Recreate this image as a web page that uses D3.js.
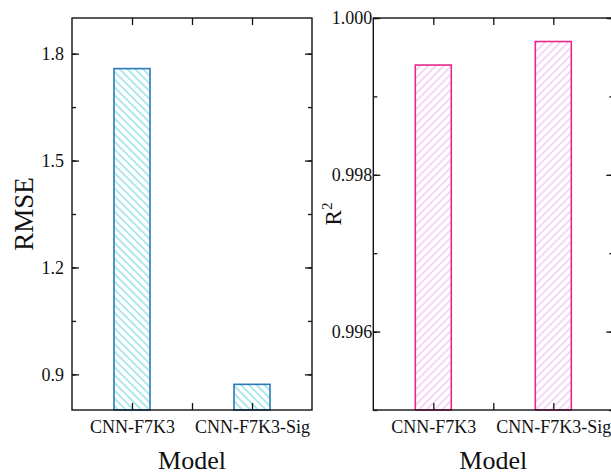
<!DOCTYPE html>
<html>
<head>
<meta charset="utf-8">
<script src="https://cdn.jsdelivr.net/npm/d3@7"></script>
<style>
  body { margin: 0; background: #fff; }
</style>
</head>
<body>
<div id="chart"></div>
<script>
const models = ["CNN-F7K3", "CNN-F7K3-Sig"];
const rmseValues = [1.758, 0.872];
const r2Values = [0.99940, 0.99970];
const rmseTicks = [0.9, 1.2, 1.5, 1.8];
const rmseMinor = [0.9, 1.05, 1.2, 1.35, 1.5, 1.65, 1.8];
const r2Ticks = [0.996, 0.998, 1.000];
const r2Minor = [0.995, 0.996, 0.997, 0.998, 0.999, 1.000];
const xTicks = [1, 1.5, 2];

const width = 611, height = 475;
const serif = '"Liberation Serif", "Times New Roman", serif';

const svg = d3.select("#chart").append("svg")
  .attr("width", width)
  .attr("height", height)
  .style("font-family", serif);

const defs = svg.append("defs");

function hatch(id, color, angle) {
  const p = defs.append("pattern")
    .attr("id", id)
    .attr("patternUnits", "userSpaceOnUse")
    .attr("width", 5.5)
    .attr("height", 5.5)
    .attr("patternTransform", `rotate(${angle})`);
  p.append("line")
    .attr("x1", 2.75).attr("y1", 0)
    .attr("x2", 2.75).attr("y2", 5.5)
    .attr("stroke", color)
    .attr("stroke-width", 1);
}
hatch("hatchCyan", "#5fd3dc", -45);
hatch("hatchPink", "#eab0ee", 45);

const panels = [
  {
    x0: 72, x1: 312, domain: [0.8, 1.9], values: rmseValues,
    ticks: rmseTicks, minor: rmseMinor, fmt: d3.format(".1f"), pad: 8,
    stroke: "#2a7ab8", fill: "url(#hatchCyan)", label: "RMSE"
  },
  {
    x0: 373.3, x1: 613.3, domain: [0.995, 1.000], values: r2Values,
    ticks: r2Ticks, minor: r2Minor, fmt: d3.format(".3f"), pad: 1,
    stroke: "#e8288a", fill: "url(#hatchPink)", label: "R2"
  }
];

const plotTop = 18, plotBottom = 410;

function styleText(a) {
  a.attr("font-family", serif);
  a.selectAll("text")
    .style("font-family", serif)
    .style("font-size", "18px")
    .attr("fill", "#111");
}

panels.forEach(function (p) {
  const x = d3.scaleLinear().domain([0.5, 2.5]).range([p.x0, p.x1]);
  const y = d3.scaleLinear().domain(p.domain).range([plotBottom, plotTop]);
  const g = svg.append("g");

  // bars
  g.selectAll("rect.bar")
    .data(p.values)
    .join("rect")
    .attr("class", "bar")
    .attr("x", (d, i) => x(i + 1 - 0.15))
    .attr("width", (d, i) => x(i + 1 + 0.15) - x(i + 1 - 0.15))
    .attr("y", d => y(d))
    .attr("height", d => plotBottom - y(d))
    .attr("fill", p.fill)
    .attr("stroke", p.stroke)
    .attr("stroke-width", 1.6);

  // frame
  g.append("rect")
    .attr("x", p.x0).attr("y", plotTop)
    .attr("width", p.x1 - p.x0).attr("height", plotBottom - plotTop)
    .attr("fill", "none")
    .attr("stroke", "#111")
    .attr("stroke-width", 1.4);

  // y axis
  g.append("g")
    .attr("transform", `translate(${p.x0},0)`)
    .call(d3.axisLeft(y).tickValues(p.minor).tickSize(-4).tickFormat(""));
  g.append("g")
    .attr("transform", `translate(${p.x0},0)`)
    .call(d3.axisLeft(y).tickValues(p.ticks).tickSize(-7).tickPadding(p.pad).tickFormat(p.fmt))
    .call(styleText);
  g.append("g")
    .attr("transform", `translate(${p.x1},0)`)
    .call(d3.axisRight(y).tickValues(p.minor).tickSize(-4).tickFormat(""));
  g.append("g")
    .attr("transform", `translate(${p.x1},0)`)
    .call(d3.axisRight(y).tickValues(p.ticks).tickSize(-7).tickFormat(""));

  // x axis
  g.append("g")
    .attr("transform", `translate(0,${plotTop})`)
    .call(d3.axisTop(x).tickValues(xTicks).tickSize(-7).tickFormat(""));
  g.append("g")
    .attr("transform", `translate(0,${plotBottom})`)
    .call(d3.axisBottom(x).tickValues(xTicks).tickSize(-7).tickPadding(10)
      .tickFormat(d => Number.isInteger(d) ? models[d - 1] : ""))
    .call(styleText);

  g.selectAll(".domain").remove();
  g.selectAll(".tick line").attr("stroke", "#111").attr("stroke-width", 1.3);

  // titles
  g.append("text")
    .attr("x", (p.x0 + p.x1) / 2)
    .attr("y", 469)
    .attr("text-anchor", "middle")
    .attr("fill", "#111")
    .style("font-size", "26px")
    .text("Model");

  const cy = (plotTop + plotBottom) / 2;
  if (p.label === "RMSE") {
    g.append("text")
      .attr("transform", `translate(33,${cy}) rotate(-90)`)
      .attr("text-anchor", "middle")
      .attr("fill", "#111")
      .style("font-size", "27px")
      .text("RMSE");
  } else {
    const t = g.append("text")
      .attr("transform", `translate(341,${cy}) rotate(-90)`)
      .attr("text-anchor", "middle")
      .attr("fill", "#111")
      .style("font-size", "23px");
    t.append("tspan").text("R");
    t.append("tspan")
      .attr("dy", -9)
      .style("font-size", "15px")
      .text("2");
  }
});
</script>
</body>
</html>
